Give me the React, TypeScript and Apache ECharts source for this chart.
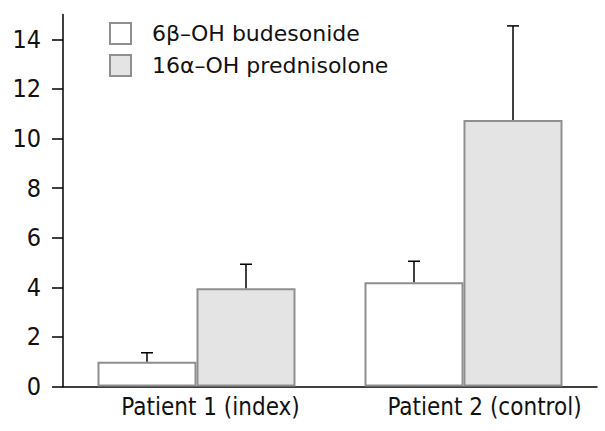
import React, { useEffect, useRef } from "react";
import * as echarts from "echarts";

const categories = ["Patient 1 (index)", "Patient 2 (control)"];
const seriesNames = ["6β–OH budesonide", "16α–OH prednisolone"];
const budesonide = [1.0, 4.2];
const budesonideErr = [0.36, 0.85];
const prednisolone = [3.96, 10.75];
const prednisoloneErr = [0.97, 3.79];
const yTicks = [0, 2, 4, 6, 8, 10, 12, 14];

const FONT = "'DejaVu Sans Condensed', 'DejaVu Sans', sans-serif";
const LEGEND_FONT = "'DejaVu Sans', sans-serif";
const BAR_W = 99;

export default function App() {
  const ref = useRef<HTMLDivElement>(null);
  useEffect(() => {
    if (!ref.current) return;
    const chart = echarts.init(ref.current, undefined, { renderer: "svg" });

    const errSeries = (vals: number[], errs: number[], offset: number) => ({
      type: "custom",
      z: 5,
      silent: true,
      data: vals.map((v, i) => [i, v, errs[i]]),
      encode: { x: 0, y: 1 },
      renderItem: (params: any, api: any) => {
        const c = api.value(0);
        const v = api.value(1);
        const e = api.value(2);
        const p0 = api.coord([c, v]);
        const p1 = api.coord([c, v + e]);
        const x = p0[0] + offset;
        return {
          type: "group",
          children: [
            {
              type: "line",
              shape: { x1: x, y1: p0[1], x2: x, y2: p1[1] },
              style: { stroke: "#000", lineWidth: 1.5 },
            },
            {
              type: "line",
              shape: { x1: x - 6, y1: p1[1], x2: x + 6, y2: p1[1] },
              style: { stroke: "#000", lineWidth: 1.5 },
            },
          ],
        };
      },
    });

    chart.setOption({
      animation: false,
      backgroundColor: "#fff",
      textStyle: { fontFamily: FONT },
      grid: { left: 63, top: 14.5, width: 534, height: 372, containLabel: false },
      legend: {
        data: seriesNames,
        orient: "vertical",
        left: 109,
        top: 22,
        padding: 0,
        itemWidth: 21,
        itemHeight: 21,
        itemGap: 9,
        icon: "rect",
        textStyle: {
          fontFamily: LEGEND_FONT,
          fontSize: 22,
          color: "#111",
          padding: [0, 0, 0, 16],
        },
      },
      xAxis: {
        type: "category",
        data: [
          { value: categories[0], textStyle: { padding: [0, 0, 0, 28] } },
          { value: categories[1], textStyle: { padding: [0, 0, 0, 42] } },
        ],
        axisLine: { lineStyle: { color: "#000", width: 1.5 } },
        axisTick: { show: false },
        axisLabel: {
          fontFamily: FONT,
          fontSize: 24,
          color: "#111",
          margin: 8,
        },
      },
      yAxis: {
        type: "value",
        min: 0,
        max: 15,
        splitLine: { show: false },
        axisLine: { show: true, lineStyle: { color: "#000", width: 1.5 } },
        axisTick: {
          show: true,
          length: 11,
          customValues: yTicks,
          lineStyle: { color: "#000", width: 1.5 },
        },
        axisLabel: {
          customValues: yTicks,
          fontFamily: FONT,
          fontSize: 25,
          color: "#111",
          margin: 22,
        },
      },
      series: [
        {
          name: seriesNames[0],
          type: "bar",
          data: budesonide,
          barWidth: BAR_W,
          barGap: "0%",
          itemStyle: { color: "#ffffff", borderColor: "#8f8f8f", borderWidth: 2 },
        },
        {
          name: seriesNames[1],
          type: "bar",
          data: prednisolone,
          barWidth: BAR_W,
          barGap: "0%",
          itemStyle: { color: "#e4e4e4", borderColor: "#8f8f8f", borderWidth: 2 },
        },
        errSeries(budesonide, budesonideErr, -BAR_W / 2),
        errSeries(prednisolone, prednisoloneErr, BAR_W / 2),
      ],
    });
    return () => chart.dispose();
  }, []);
  return (
    <div
      ref={ref}
      style={{ position: "fixed", left: 0, top: 0, width: 605, height: 431 }}
    />
  );
}
